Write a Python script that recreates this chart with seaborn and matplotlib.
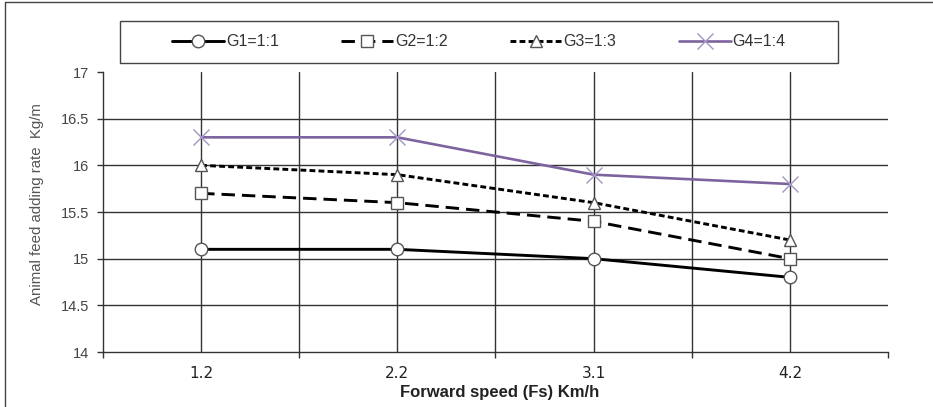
import matplotlib
matplotlib.use("Agg")
import matplotlib.pyplot as plt
from matplotlib.lines import Line2D
from matplotlib.patches import Rectangle
import seaborn as sns
import pandas as pd

# Data
speeds = ["1.2", "2.2", "3.1", "4.2"]
groups = ["G1=1:1", "G2=1:2", "G3=1:3", "G4=1:4"]
g1 = [15.1, 15.1, 15.0, 14.8]
g2 = [15.7, 15.6, 15.4, 15.0]
g3 = [16.0, 15.9, 15.6, 15.2]
g4 = [16.3, 16.3, 15.9, 15.8]
y_ticks = [14, 14.5, 15, 15.5, 16, 16.5, 17]
y_tick_labels = ["14", "14.5", "15", "15.5", "16", "16.5", "17"]

sns.set_theme(style="white")
plt.rcParams["font.family"] = ["Liberation Sans", "DejaVu Sans"]

fig = plt.figure(figsize=(9.33, 4.07), dpi=100)
W, H = 933, 407
ax = fig.add_axes([103 / W, 1 - 352 / H, (888 - 103) / W, (352 - 72) / H])

styles = {
    "G1=1:1": dict(color="black", marker="o", linestyle="-"),
    "G2=1:2": dict(color="black", marker="s", dashes=(4.6, 2.4)),
    "G3=1:3": dict(color="black", marker="^", dashes=(2.0, 1.1)),
    "G4=1:4": dict(color="#7E649E", marker="x", linestyle="-"),
}

for name, vals in zip(groups, [g1, g2, g3, g4]):
    d = pd.DataFrame({"pos": range(len(speeds)), "rate": vals})
    st = dict(styles[name])
    kw = dict(linewidth=2.1, markersize=9, markerfacecolor="white",
              markeredgecolor="#555555", markeredgewidth=1.0)
    if st["marker"] == "x":
        kw.update(linewidth=1.9, markersize=11, markeredgecolor="#A396C4",
                  markeredgewidth=1.0)
    sns.lineplot(data=d, x="pos", y="rate", ax=ax, label=name, **st, **kw)

handles, labels = ax.get_legend_handles_labels()
ax.get_legend().remove()

fig.legend(handles, labels, loc="center", bbox_to_anchor=(479 / W, 1 - 42 / H),
           ncol=4, frameon=False, fontsize=11.5, handlelength=3.25,
           handletextpad=0.12, columnspacing=3.9, labelcolor="#333333")
fig.patches.append(Rectangle((120 / W, 1 - 63 / H), (838 - 120) / W, (63 - 21) / H,
                             transform=fig.transFigure, fill=False,
                             edgecolor="#444444", linewidth=1.0))

# axes
ax.set_xlim(-0.5, 3.5)
ax.set_ylim(14, 17)
ax.set_yticks(y_ticks)
ax.set_yticklabels(y_tick_labels)
ax.set_xticks(range(len(speeds)))
ax.set_xticklabels(speeds, fontfamily="DejaVu Sans", fontsize=11, color="#222222")
ax.set_xticks([-0.5, 0.5, 1.5, 2.5, 3.5], minor=True)

ax.tick_params(axis="x", which="major", length=0, pad=10)
ax.tick_params(axis="x", which="minor", length=4, width=1, color="#333333",
               direction="out", bottom=True)
ax.tick_params(axis="y", which="major", length=4, width=1, color="#333333",
               direction="out", labelsize=10.5, labelcolor="#444444", pad=6, left=True)

for x in [0, 0.5, 1, 1.5, 2, 2.5, 3]:
    ax.axvline(x, color="#333333", linewidth=1.0, zorder=0)
for y in [14.5, 15, 15.5, 16, 16.5]:
    ax.axhline(y, color="#333333", linewidth=1.0, zorder=0)

for side in ["top", "right"]:
    ax.spines[side].set_visible(False)
for side in ["left", "bottom"]:
    ax.spines[side].set_color("#333333")
    ax.spines[side].set_linewidth(1.0)

ax.set_xlabel("Forward speed (Fs) Km/h", fontsize=12, fontweight="bold",
              color="#222222", va="center")
ax.xaxis.set_label_coords((500 - 103) / 785, (352 - 393) / 280)
ax.set_ylabel("Animal feed adding rate  Kg/m", fontsize=10.8, color="#555555", va="center")
ax.yaxis.set_label_coords((37 - 103) / 785, (352 - 204) / 280)

# outer frame
fig.add_artist(Line2D([5 / W, 5 / W], [0, 1 - 2 / H], transform=fig.transFigure,
                      color="#444444", linewidth=1.0))
fig.add_artist(Line2D([5 / W, 1], [1 - 2 / H, 1 - 2 / H], transform=fig.transFigure,
                      color="#444444", linewidth=1.0))

fig.savefig("out.png", dpi=100)
